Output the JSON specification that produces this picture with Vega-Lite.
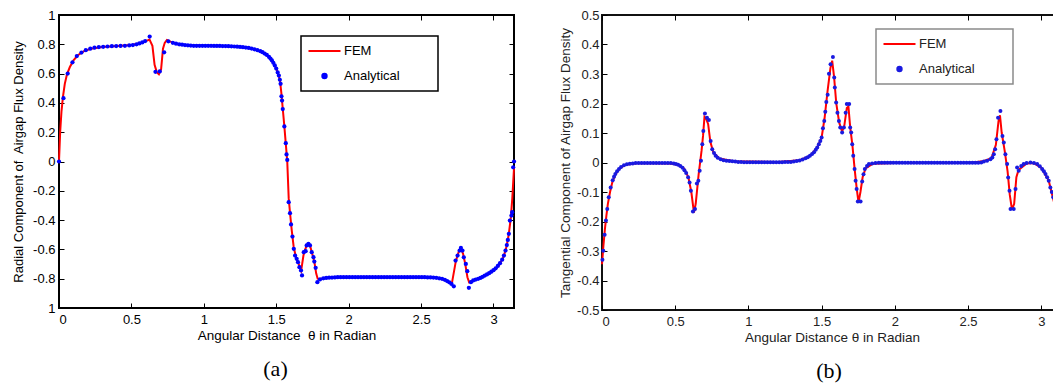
{
  "$schema": "https://vega.github.io/schema/vega-lite/v6.json",
  "padding": {"left": 11, "top": 8, "right": 0, "bottom": 0},
  "background": "white",
  "spacing": 37,
  "config": {
    "font": "Liberation Sans",
    "axis": {"grid": false, "domain": false, "labelFont": "Liberation Sans", "labelFontSize": 13, "titleFont": "Liberation Sans", "titleFontSize": 13.5, "titleFontWeight": "normal", "tickSize": -5, "tickColor": "black", "tickWidth": 1, "labelColor": "black", "titleColor": "black"}
  },
  "resolve": {"scale": {"color": "independent"}, "legend": {"color": "independent"}},
  "datasets": {
    "aF": [
      {"t":0,"v":0},{"t":0.008,"v":0.2},{"t":0.017,"v":0.34},{"t":0.027,"v":0.44},{"t":0.04,"v":0.53},{"t":0.055,"v":0.595},{"t":0.075,"v":0.645},{"t":0.1,"v":0.69},{"t":0.13,"v":0.725},{"t":0.17,"v":0.752},{"t":0.22,"v":0.77},{"t":0.3,"v":0.782},{"t":0.4,"v":0.789},{"t":0.5,"v":0.795},{"t":0.56,"v":0.807},{"t":0.6,"v":0.822},{"t":0.625,"v":0.832},{"t":0.645,"v":0.79},{"t":0.66,"v":0.66},{"t":0.675,"v":0.61},{"t":0.69,"v":0.595},{"t":0.705,"v":0.63},{"t":0.718,"v":0.77},{"t":0.73,"v":0.81},{"t":0.745,"v":0.83},{"t":0.77,"v":0.818},{"t":0.82,"v":0.8},{"t":0.9,"v":0.792},{"t":1.0,"v":0.79},{"t":1.1,"v":0.789},{"t":1.2,"v":0.786},{"t":1.3,"v":0.777},{"t":1.37,"v":0.76},{"t":1.42,"v":0.737},{"t":1.46,"v":0.703},{"t":1.49,"v":0.656},{"t":1.51,"v":0.608},{"t":1.525,"v":0.56},{"t":1.535,"v":0.47},{"t":1.545,"v":0.36},{"t":1.556,"v":0.24},{"t":1.566,"v":0.12},{"t":1.576,"v":0.0},{"t":1.586,"v":-0.25},{"t":1.596,"v":-0.36},{"t":1.607,"v":-0.47},{"t":1.62,"v":-0.58},{"t":1.635,"v":-0.65},{"t":1.655,"v":-0.7},{"t":1.672,"v":-0.745},{"t":1.688,"v":-0.64},{"t":1.7,"v":-0.6},{"t":1.712,"v":-0.57},{"t":1.724,"v":-0.565},{"t":1.736,"v":-0.585},{"t":1.75,"v":-0.635},{"t":1.764,"v":-0.69},{"t":1.776,"v":-0.765},{"t":1.786,"v":-0.8},{"t":1.8,"v":-0.802},{"t":1.85,"v":-0.795},{"t":1.95,"v":-0.79},{"t":2.2,"v":-0.79},{"t":2.4,"v":-0.791},{"t":2.55,"v":-0.79},{"t":2.62,"v":-0.795},{"t":2.68,"v":-0.815},{"t":2.712,"v":-0.835},{"t":2.74,"v":-0.68},{"t":2.76,"v":-0.615},{"t":2.775,"v":-0.595},{"t":2.79,"v":-0.63},{"t":2.805,"v":-0.7},{"t":2.82,"v":-0.79},{"t":2.832,"v":-0.825},{"t":2.85,"v":-0.815},{"t":2.9,"v":-0.798},{"t":2.95,"v":-0.774},{"t":3.0,"v":-0.745},{"t":3.04,"v":-0.705},{"t":3.07,"v":-0.65},{"t":3.09,"v":-0.58},{"t":3.105,"v":-0.5},{"t":3.12,"v":-0.38},{"t":3.13,"v":-0.25},{"t":3.142,"v":-0.04}
    ],
    "aA": [
      {"t":0,"v":0},{"t":0.031,"v":0.432},{"t":0.06,"v":0.6},{"t":0.093,"v":0.677},{"t":0.123,"v":0.72},{"t":0.155,"v":0.744},{"t":0.185,"v":0.76},{"t":0.216,"v":0.77},{"t":0.245,"v":0.777},{"t":0.275,"v":0.781},{"t":0.305,"v":0.783},{"t":0.335,"v":0.785},{"t":0.365,"v":0.787},{"t":0.395,"v":0.788},{"t":0.425,"v":0.789},{"t":0.455,"v":0.79},{"t":0.485,"v":0.792},{"t":0.51,"v":0.795},{"t":0.535,"v":0.8},{"t":0.555,"v":0.806},{"t":0.575,"v":0.813},{"t":0.595,"v":0.822},{"t":0.626,"v":0.853},{"t":0.666,"v":0.612},{"t":0.696,"v":0.615},{"t":0.726,"v":0.745},{"t":0.755,"v":0.82},{"t":0.786,"v":0.81},{"t":0.808,"v":0.804},{"t":0.83,"v":0.8},{"t":0.85,"v":0.797},{"t":0.87,"v":0.795},{"t":0.89,"v":0.793},{"t":0.91,"v":0.791},{"t":0.93,"v":0.79},{"t":0.95,"v":0.79},{"t":0.97,"v":0.79},{"t":0.99,"v":0.79},{"t":1.01,"v":0.79},{"t":1.03,"v":0.79},{"t":1.05,"v":0.79},{"t":1.07,"v":0.789},{"t":1.09,"v":0.789},{"t":1.11,"v":0.789},{"t":1.13,"v":0.788},{"t":1.15,"v":0.788},{"t":1.17,"v":0.787},{"t":1.19,"v":0.786},{"t":1.21,"v":0.785},{"t":1.23,"v":0.784},{"t":1.25,"v":0.782},{"t":1.27,"v":0.78},{"t":1.29,"v":0.778},{"t":1.31,"v":0.775},{"t":1.33,"v":0.771},{"t":1.35,"v":0.766},{"t":1.37,"v":0.76},{"t":1.39,"v":0.753},{"t":1.405,"v":0.746},{"t":1.42,"v":0.737},{"t":1.435,"v":0.727},{"t":1.45,"v":0.714},{"t":1.46,"v":0.703},{"t":1.47,"v":0.69},{"t":1.48,"v":0.674},{"t":1.49,"v":0.656},{"t":1.5,"v":0.634},{"t":1.51,"v":0.608},{"t":1.518,"v":0.587},{"t":1.525,"v":0.558},{"t":1.53,"v":0.53},{"t":1.536,"v":0.445},{"t":1.54,"v":0.416},{"t":1.545,"v":0.358},{"t":1.556,"v":0.239},{"t":1.566,"v":0.125},{"t":1.571,"v":0.048},{"t":1.576,"v":0.011},{"t":1.586,"v":-0.278},{"t":1.595,"v":-0.353},{"t":1.602,"v":-0.43},{"t":1.612,"v":-0.512},{"t":1.621,"v":-0.596},{"t":1.63,"v":-0.642},{"t":1.641,"v":-0.664},{"t":1.65,"v":-0.687},{"t":1.66,"v":-0.721},{"t":1.671,"v":-0.744},{"t":1.678,"v":-0.778},{"t":1.69,"v":-0.619},{"t":1.703,"v":-0.612},{"t":1.71,"v":-0.573},{"t":1.722,"v":-0.562},{"t":1.733,"v":-0.573},{"t":1.745,"v":-0.619},{"t":1.757,"v":-0.653},{"t":1.763,"v":-0.683},{"t":1.772,"v":-0.726},{"t":1.784,"v":-0.824},{"t":1.802,"v":-0.805},{"t":1.825,"v":-0.797},{"t":1.845,"v":-0.795},{"t":1.865,"v":-0.793},{"t":1.885,"v":-0.792},{"t":1.905,"v":-0.791},{"t":1.925,"v":-0.79},{"t":1.945,"v":-0.79},{"t":1.965,"v":-0.79},{"t":1.985,"v":-0.79},{"t":2.005,"v":-0.79},{"t":2.025,"v":-0.79},{"t":2.045,"v":-0.79},{"t":2.065,"v":-0.79},{"t":2.085,"v":-0.79},{"t":2.105,"v":-0.79},{"t":2.125,"v":-0.79},{"t":2.145,"v":-0.79},{"t":2.165,"v":-0.79},{"t":2.185,"v":-0.79},{"t":2.205,"v":-0.79},{"t":2.225,"v":-0.79},{"t":2.245,"v":-0.79},{"t":2.265,"v":-0.79},{"t":2.285,"v":-0.79},{"t":2.305,"v":-0.79},{"t":2.325,"v":-0.79},{"t":2.345,"v":-0.79},{"t":2.365,"v":-0.79},{"t":2.385,"v":-0.79},{"t":2.405,"v":-0.79},{"t":2.425,"v":-0.79},{"t":2.445,"v":-0.79},{"t":2.465,"v":-0.79},{"t":2.485,"v":-0.79},{"t":2.505,"v":-0.79},{"t":2.525,"v":-0.79},{"t":2.545,"v":-0.791},{"t":2.565,"v":-0.791},{"t":2.585,"v":-0.792},{"t":2.605,"v":-0.794},{"t":2.625,"v":-0.797},{"t":2.645,"v":-0.801},{"t":2.664,"v":-0.808},{"t":2.68,"v":-0.816},{"t":2.695,"v":-0.825},{"t":2.71,"v":-0.836},{"t":2.726,"v":-0.852},{"t":2.738,"v":-0.676},{"t":2.752,"v":-0.642},{"t":2.766,"v":-0.608},{"t":2.775,"v":-0.59},{"t":2.786,"v":-0.608},{"t":2.795,"v":-0.654},{"t":2.809,"v":-0.699},{"t":2.819,"v":-0.749},{"t":2.83,"v":-0.862},{"t":2.844,"v":-0.824},{"t":2.86,"v":-0.812},{"t":2.877,"v":-0.806},{"t":2.894,"v":-0.801},{"t":2.91,"v":-0.795},{"t":2.925,"v":-0.787},{"t":2.94,"v":-0.779},{"t":2.955,"v":-0.771},{"t":2.97,"v":-0.762},{"t":2.985,"v":-0.752},{"t":3.0,"v":-0.742},{"t":3.015,"v":-0.729},{"t":3.03,"v":-0.713},{"t":3.045,"v":-0.694},{"t":3.06,"v":-0.67},{"t":3.072,"v":-0.642},{"t":3.083,"v":-0.608},{"t":3.092,"v":-0.57},{"t":3.099,"v":-0.535},{"t":3.106,"v":-0.494},{"t":3.113,"v":-0.403},{"t":3.124,"v":-0.369},{"t":3.129,"v":-0.346},{"t":3.136,"v":-0.04},{"t":3.142,"v":0}
    ],
    "bF": [
      {"t":0,"v":-0.345},{"t":0.01,"v":-0.28},{"t":0.02,"v":-0.225},{"t":0.03,"v":-0.18},{"t":0.04,"v":-0.14},{"t":0.055,"v":-0.1},{"t":0.07,"v":-0.068},{"t":0.09,"v":-0.042},{"t":0.12,"v":-0.02},{"t":0.16,"v":-0.008},{"t":0.25,"v":-0.002},{"t":0.45,"v":-0.003},{"t":0.52,"v":-0.008},{"t":0.56,"v":-0.02},{"t":0.59,"v":-0.05},{"t":0.61,"v":-0.1},{"t":0.628,"v":-0.17},{"t":0.64,"v":-0.14},{"t":0.66,"v":-0.04},{"t":0.68,"v":0.04},{"t":0.69,"v":0.09},{"t":0.7,"v":0.155},{"t":0.71,"v":0.15},{"t":0.725,"v":0.13},{"t":0.74,"v":0.07},{"t":0.76,"v":0.035},{"t":0.8,"v":0.014},{"t":0.9,"v":0.004},{"t":1.2,"v":0.002},{"t":1.35,"v":0.008},{"t":1.42,"v":0.022},{"t":1.47,"v":0.05},{"t":1.5,"v":0.085},{"t":1.52,"v":0.15},{"t":1.54,"v":0.24},{"t":1.56,"v":0.32},{"t":1.572,"v":0.345},{"t":1.585,"v":0.29},{"t":1.6,"v":0.2},{"t":1.62,"v":0.135},{"t":1.64,"v":0.105},{"t":1.655,"v":0.125},{"t":1.672,"v":0.185},{"t":1.683,"v":0.19},{"t":1.695,"v":0.12},{"t":1.71,"v":0.06},{"t":1.725,"v":-0.02},{"t":1.74,"v":-0.09},{"t":1.752,"v":-0.135},{"t":1.765,"v":-0.1},{"t":1.78,"v":-0.05},{"t":1.8,"v":-0.02},{"t":1.85,"v":-0.004},{"t":2.0,"v":-0.002},{"t":2.5,"v":-0.002},{"t":2.6,"v":0.004},{"t":2.66,"v":0.015},{"t":2.69,"v":0.06},{"t":2.708,"v":0.14},{"t":2.718,"v":0.16},{"t":2.73,"v":0.1},{"t":2.75,"v":0.04},{"t":2.77,"v":-0.03},{"t":2.785,"v":-0.11},{"t":2.8,"v":-0.16},{"t":2.815,"v":-0.14},{"t":2.83,"v":-0.05},{"t":2.845,"v":-0.025},{"t":2.9,"v":-0.003},{"t":2.95,"v":-0.002},{"t":3.0,"v":-0.018},{"t":3.05,"v":-0.06},{"t":3.1,"v":-0.16},{"t":3.142,"v":-0.33}
    ],
    "bA": [
      {"t":0.003,"v":-0.33},{"t":0.009,"v":-0.299},{"t":0.018,"v":-0.245},{"t":0.027,"v":-0.197},{"t":0.036,"v":-0.158},{"t":0.046,"v":-0.118},{"t":0.059,"v":-0.085},{"t":0.073,"v":-0.06},{"t":0.082,"v":-0.048},{"t":0.091,"v":-0.039},{"t":0.103,"v":-0.03},{"t":0.116,"v":-0.022},{"t":0.13,"v":-0.015},{"t":0.15,"v":-0.009},{"t":0.17,"v":-0.006},{"t":0.19,"v":-0.004},{"t":0.21,"v":-0.003},{"t":0.23,"v":-0.002},{"t":0.25,"v":-0.002},{"t":0.27,"v":-0.002},{"t":0.29,"v":-0.002},{"t":0.31,"v":-0.002},{"t":0.33,"v":-0.002},{"t":0.35,"v":-0.002},{"t":0.37,"v":-0.002},{"t":0.39,"v":-0.002},{"t":0.41,"v":-0.002},{"t":0.43,"v":-0.002},{"t":0.45,"v":-0.002},{"t":0.47,"v":-0.002},{"t":0.49,"v":-0.003},{"t":0.505,"v":-0.005},{"t":0.52,"v":-0.008},{"t":0.535,"v":-0.012},{"t":0.55,"v":-0.018},{"t":0.563,"v":-0.026},{"t":0.575,"v":-0.036},{"t":0.588,"v":-0.05},{"t":0.598,"v":-0.068},{"t":0.607,"v":-0.096},{"t":0.621,"v":-0.166},{"t":0.635,"v":-0.158},{"t":0.648,"v":-0.071},{"t":0.658,"v":-0.062},{"t":0.667,"v":-0.028},{"t":0.676,"v":0.006},{"t":0.685,"v":0.062},{"t":0.692,"v":0.107},{"t":0.703,"v":0.166},{"t":0.717,"v":0.152},{"t":0.73,"v":0.144},{"t":0.742,"v":0.073},{"t":0.753,"v":0.045},{"t":0.765,"v":0.032},{"t":0.776,"v":0.023},{"t":0.79,"v":0.016},{"t":0.81,"v":0.011},{"t":0.83,"v":0.008},{"t":0.85,"v":0.006},{"t":0.87,"v":0.005},{"t":0.89,"v":0.004},{"t":0.91,"v":0.003},{"t":0.93,"v":0.002},{"t":0.95,"v":0.002},{"t":0.97,"v":0.001},{"t":0.99,"v":0.001},{"t":1.01,"v":0.001},{"t":1.03,"v":0.001},{"t":1.05,"v":0.001},{"t":1.07,"v":0.001},{"t":1.09,"v":0.001},{"t":1.11,"v":0.001},{"t":1.13,"v":0.001},{"t":1.15,"v":0.001},{"t":1.17,"v":0.001},{"t":1.19,"v":0.001},{"t":1.21,"v":0.001},{"t":1.23,"v":0.001},{"t":1.25,"v":0.002},{"t":1.27,"v":0.002},{"t":1.29,"v":0.002},{"t":1.31,"v":0.003},{"t":1.33,"v":0.005},{"t":1.35,"v":0.007},{"t":1.37,"v":0.01},{"t":1.39,"v":0.014},{"t":1.405,"v":0.018},{"t":1.42,"v":0.023},{"t":1.435,"v":0.029},{"t":1.448,"v":0.035},{"t":1.46,"v":0.043},{"t":1.47,"v":0.051},{"t":1.481,"v":0.062},{"t":1.491,"v":0.073},{"t":1.5,"v":0.085},{"t":1.509,"v":0.116},{"t":1.518,"v":0.141},{"t":1.525,"v":0.172},{"t":1.532,"v":0.205},{"t":1.541,"v":0.23},{"t":1.55,"v":0.301},{"t":1.561,"v":0.333},{"t":1.577,"v":0.358},{"t":1.586,"v":0.288},{"t":1.59,"v":0.254},{"t":1.599,"v":0.203},{"t":1.608,"v":0.169},{"t":1.618,"v":0.141},{"t":1.627,"v":0.119},{"t":1.64,"v":0.102},{"t":1.652,"v":0.119},{"t":1.664,"v":0.169},{"t":1.672,"v":0.198},{"t":1.688,"v":0.198},{"t":1.695,"v":0.119},{"t":1.702,"v":0.102},{"t":1.709,"v":0.062},{"t":1.716,"v":0.023},{"t":1.725,"v":-0.022},{"t":1.732,"v":-0.062},{"t":1.739,"v":-0.09},{"t":1.747,"v":-0.132},{"t":1.766,"v":-0.132},{"t":1.777,"v":-0.064},{"t":1.786,"v":-0.04},{"t":1.795,"v":-0.022},{"t":1.81,"v":-0.012},{"t":1.823,"v":-0.005},{"t":1.845,"v":-0.003},{"t":1.868,"v":-0.002},{"t":1.89,"v":-0.001},{"t":1.91,"v":-0.001},{"t":1.93,"v":-0.001},{"t":1.95,"v":-0.001},{"t":1.97,"v":-0.001},{"t":1.99,"v":-0.001},{"t":2.01,"v":-0.001},{"t":2.03,"v":-0.001},{"t":2.05,"v":-0.001},{"t":2.07,"v":-0.001},{"t":2.09,"v":-0.001},{"t":2.11,"v":-0.001},{"t":2.13,"v":-0.001},{"t":2.15,"v":-0.001},{"t":2.17,"v":-0.001},{"t":2.19,"v":-0.001},{"t":2.21,"v":-0.001},{"t":2.23,"v":-0.001},{"t":2.25,"v":-0.001},{"t":2.27,"v":-0.001},{"t":2.29,"v":-0.001},{"t":2.31,"v":-0.001},{"t":2.33,"v":-0.001},{"t":2.35,"v":-0.001},{"t":2.37,"v":-0.001},{"t":2.39,"v":-0.001},{"t":2.41,"v":-0.001},{"t":2.43,"v":-0.001},{"t":2.45,"v":-0.001},{"t":2.47,"v":-0.001},{"t":2.49,"v":-0.001},{"t":2.51,"v":-0.001},{"t":2.53,"v":-0.001},{"t":2.55,"v":-0.001},{"t":2.57,"v":-0.001},{"t":2.59,"v":0.0},{"t":2.608,"v":0.003},{"t":2.63,"v":0.006},{"t":2.653,"v":0.011},{"t":2.666,"v":0.017},{"t":2.676,"v":0.028},{"t":2.685,"v":0.045},{"t":2.694,"v":0.079},{"t":2.705,"v":0.152},{"t":2.721,"v":0.175},{"t":2.735,"v":0.09},{"t":2.744,"v":0.068},{"t":2.755,"v":0.028},{"t":2.767,"v":-0.005},{"t":2.774,"v":-0.051},{"t":2.783,"v":-0.096},{"t":2.79,"v":-0.158},{"t":2.812,"v":-0.158},{"t":2.824,"v":-0.09},{"t":2.835,"v":-0.017},{"t":2.846,"v":-0.028},{"t":2.863,"v":-0.012},{"t":2.88,"v":-0.005},{"t":2.9,"v":-0.002},{"t":2.926,"v":0.0},{"t":2.95,"v":-0.002},{"t":2.972,"v":-0.005},{"t":2.99,"v":-0.013},{"t":3.006,"v":-0.022},{"t":3.018,"v":-0.03},{"t":3.029,"v":-0.039},{"t":3.04,"v":-0.05},{"t":3.051,"v":-0.062},{"t":3.062,"v":-0.085},{"t":3.072,"v":-0.1},{"t":3.082,"v":-0.118},{"t":3.095,"v":-0.15},{"t":3.11,"v":-0.19},{"t":3.125,"v":-0.24},{"t":3.142,"v":-0.32}
    ]
  },
  "hconcat": [
    {
      "width": 455,
      "height": 293,
      "view": {"stroke": "black", "strokeWidth": 2},
      "title": {"text": "(a)", "orient": "bottom", "anchor": "middle", "frame": "group", "font": "Liberation Serif", "fontSize": 22, "fontWeight": "normal", "color": "black", "offset": 17, "dx": -11},
      "resolve": {"axis": {"x": "independent", "y": "independent"}},
      "layer": [
        {
          "data": {"name": "aF"},
          "mark": {"type": "line", "strokeWidth": 2},
          "encoding": {
            "x": {"field": "t", "type": "quantitative", "scale": {"domain": [0, 3.14159], "nice": false, "zero": false},
              "axis": {"orient": "bottom", "values": [0, 0.5, 1, 1.5, 2, 2.5, 3], "labelExpr": "format(datum.value, '~g')", "labelPadding": 10.5, "title": "Angular Distance\u00a0 θ in Radian", "titlePadding": 1.5}},
            "y": {"field": "v", "type": "quantitative", "scale": {"domain": [-1, 1], "nice": false, "zero": false},
              "axis": {"orient": "left", "values": [-1, -0.8, -0.6, -0.4, -0.2, 0, 0.2, 0.4, 0.6, 0.8, 1], "labelExpr": "datum.value == -1 ? '1' : replace(format(datum.value, '~g'), '−', '-')", "labelPadding": 9, "title": "Radial Component of\u00a0 Airgap Flux Density", "titlePadding": 7, "titleFontSize": 13}},
            "color": {"datum": "FEM", "scale": {"domain": ["FEM", "Analytical"], "range": ["#ff0000", "#0000ff"]},
              "legend": {"orient": "none", "legendX": 242, "legendY": 21, "title": null, "direction": "vertical", "padding": 5, "strokeColor": "black", "fillColor": "white", "labelFont": "Liberation Sans", "labelFontSize": 13, "labelColor": "black", "labelExpr": "datum.label + '         \u200b'", "symbolSize": 64, "symbolStrokeWidth": 2, "symbolOffset": 12, "labelOffset": 13, "clipHeight": 20, "rowPadding": 5,
                "encode": {"legend": {"update": {"strokeWidth": {"value": 1.5}}}, "symbols": {"update": {"shape": {"signal": "datum.value === 'FEM' ? 'M-4,0H4' : 'M0.55,0A0.55,0.55,0,1,1,-0.55,0A0.55,0.55,0,1,1,0.55,0Z'"}, "size": {"value": 64}, "fill": {"signal": "datum.value === 'FEM' ? 'transparent' : '#0000ff'"}, "stroke": {"signal": "datum.value === 'FEM' ? '#ff0000' : 'transparent'"}, "strokeWidth": {"value": 2}, "opacity": {"value": 1}}}}}}
          }
        },
        {
          "data": {"name": "aA"},
          "mark": {"type": "point", "filled": true, "size": 18, "opacity": 1, "shape": "circle"},
          "encoding": {
            "x": {"field": "t", "type": "quantitative", "scale": {"domain": [0, 3.14159], "nice": false, "zero": false},
              "axis": {"orient": "top", "values": [0, 0.5, 1, 1.5, 2, 2.5, 3], "labels": false, "title": null}},
            "y": {"field": "v", "type": "quantitative", "scale": {"domain": [-1, 1], "nice": false, "zero": false},
              "axis": {"orient": "right", "values": [-1, -0.8, -0.6, -0.4, -0.2, 0, 0.2, 0.4, 0.6, 0.8, 1], "labels": false, "title": null}},
            "color": {"datum": "Analytical"}
          }
        }
      ]
    },
    {
      "width": 460,
      "height": 295,
      "view": {"stroke": "#111111", "strokeWidth": 2},
      "title": {"text": "(b)", "orient": "bottom", "anchor": "middle", "frame": "group", "font": "Liberation Serif", "fontSize": 22, "fontWeight": "normal", "color": "black", "offset": 17, "dx": -3},
      "resolve": {"axis": {"x": "independent", "y": "independent"}},
      "layer": [
        {
          "data": {"name": "bF"},
          "mark": {"type": "line", "strokeWidth": 2},
          "encoding": {
            "x": {"field": "t", "type": "quantitative", "scale": {"domain": [0, 3.14159], "nice": false, "zero": false},
              "axis": {"orient": "bottom", "values": [0, 0.5, 1, 1.5, 2, 2.5, 3], "labelExpr": "format(datum.value, '~g')", "labelPadding": 10.5, "title": "Angular Distance θ in Radian", "titlePadding": 2, "labelColor": "#222222", "titleColor": "#222222"}},
            "y": {"field": "v", "type": "quantitative", "scale": {"domain": [-0.5, 0.5], "nice": false, "zero": false},
              "axis": {"orient": "left", "values": [-0.5, -0.4, -0.3, -0.2, -0.1, 0, 0.1, 0.2, 0.3, 0.4, 0.5], "labelExpr": "replace(format(datum.value, '~g'), '−', '-')", "labelPadding": 8, "title": "Tangential Component of Airgap Flux Density", "titlePadding": 4, "labelColor": "#222222", "titleColor": "#222222"}},
            "color": {"datum": "FEM", "scale": {"domain": ["FEM", "Analytical"], "range": ["#ff0000", "#1a1ae0"]},
              "legend": {"orient": "none", "legendX": 274, "legendY": 14, "title": null, "direction": "vertical", "padding": 5, "strokeColor": "#8a8a8a", "fillColor": "white", "labelFont": "Liberation Sans", "labelFontSize": 13, "labelColor": "#222222", "labelExpr": "datum.label + '         \u200b'", "symbolSize": 64, "symbolStrokeWidth": 2, "symbolOffset": 12, "labelOffset": 13, "clipHeight": 20, "rowPadding": 5,
                "encode": {"legend": {"update": {"strokeWidth": {"value": 1.5}}}, "symbols": {"update": {"shape": {"signal": "datum.value === 'FEM' ? 'M-4,0H4' : 'M0.55,0A0.55,0.55,0,1,1,-0.55,0A0.55,0.55,0,1,1,0.55,0Z'"}, "size": {"value": 64}, "fill": {"signal": "datum.value === 'FEM' ? 'transparent' : '#1a1ae0'"}, "stroke": {"signal": "datum.value === 'FEM' ? '#ff0000' : 'transparent'"}, "strokeWidth": {"value": 2}, "opacity": {"value": 1}}}}}}
          }
        },
        {
          "data": {"name": "bA"},
          "mark": {"type": "point", "filled": true, "size": 16, "opacity": 1, "shape": "circle"},
          "encoding": {
            "x": {"field": "t", "type": "quantitative", "scale": {"domain": [0, 3.14159], "nice": false, "zero": false},
              "axis": {"orient": "top", "values": [0, 0.5, 1, 1.5, 2, 2.5, 3], "labels": false, "title": null}},
            "y": {"field": "v", "type": "quantitative", "scale": {"domain": [-0.5, 0.5], "nice": false, "zero": false},
              "axis": {"orient": "right", "values": [-0.5, -0.4, -0.3, -0.2, -0.1, 0, 0.1, 0.2, 0.3, 0.4, 0.5], "labels": false, "title": null}},
            "color": {"datum": "Analytical"}
          }
        }
      ]
    }
  ]
}
